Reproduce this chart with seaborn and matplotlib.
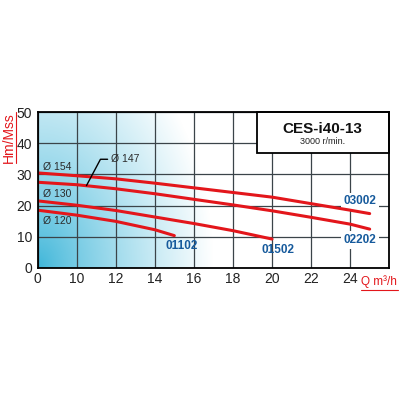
import numpy as np
import pandas as pd
import matplotlib
matplotlib.use("Agg")
import matplotlib.pyplot as plt
import seaborn as sns
from matplotlib.patches import Rectangle
from matplotlib.lines import Line2D

# ---------------- data ----------------
models = ["03002", "02202", "01502", "01102"]
diameters = ["Ø 154", "Ø 147", "Ø 130", "Ø 120"]
q_154 = [0, 10, 12, 14, 16, 18, 20, 22, 24, 25]
h_154 = [30.5, 29.6, 28.6, 27.2, 25.7, 24.2, 22.7, 20.6, 18.5, 17.4]
q_147 = [0, 10, 12, 14, 16, 18, 20, 22, 24, 25]
h_147 = [27.5, 26.7, 25.4, 23.8, 22.0, 20.2, 18.3, 16.2, 14.0, 12.4]
q_130 = [0, 10, 12, 14, 16, 18, 20]
h_130 = [21.5, 20.1, 18.4, 16.3, 14.2, 11.9, 9.2]
q_120 = [0, 10, 12, 14, 15]
h_120 = [18.5, 16.9, 14.9, 12.2, 10.3]
x_ticks = [0, 10, 12, 14, 16, 18, 20, 22, 24]
y_ticks = [0, 10, 20, 30, 40, 50]
title = "CES-i40-13"
subtitle = "3000 r/min."
x_label = "Q m³/h"
y_label = "Hm/Mss"

df = pd.concat([
    pd.DataFrame({"Q": q_154, "H": h_154, "model": models[0]}),
    pd.DataFrame({"Q": q_147, "H": h_147, "model": models[1]}),
    pd.DataFrame({"Q": q_130, "H": h_130, "model": models[2]}),
    pd.DataFrame({"Q": q_120, "H": h_120, "model": models[3]}),
], ignore_index=True)

# ---------------- style ----------------
sns.set_style("white")
plt.rcParams["font.family"] = ["Liberation Sans", "DejaVu Sans"]
RED = "#e3161b"
BLUE = "#165a9c"
TXT = "#222222"

fig = plt.figure(figsize=(4, 4), dpi=100)
fig.patch.set_facecolor("white")
ax = fig.add_axes([0.094, 0.331, 0.879, 0.388])

# piecewise x scale: 0-10 one cell, then 2 per cell
def fwd(x):
    x = np.asarray(x, dtype=float)
    return np.where(x < 10, x / 10.0, 1.0 + (x - 10.0) / 2.0)

def inv(u):
    u = np.asarray(u, dtype=float)
    return np.where(u < 1, u * 10.0, 10.0 + (u - 1.0) * 2.0)

ax.set_xscale("function", functions=(fwd, inv))

# gradient background (cyan at lower left fading to white)
W, H = 352, 155
xx, yy = np.meshgrid(np.arange(W), np.arange(H)[::-1])
t = np.sqrt((xx / 175.0) ** 2 + (yy / 250.0) ** 2)
f = np.clip(t, 0, 1) ** 0.8
c0 = np.array([0.235, 0.71, 0.85])
img = c0[None, None, :] * (1 - f[..., None]) + f[..., None]
ax.imshow(img, extent=[0, 1, 0, 1], transform=ax.transAxes, aspect="auto",
          zorder=0, interpolation="bilinear")

sns.lineplot(data=df, x="Q", y="H", hue="model", palette=[RED] * 4,
             estimator=None, sort=False, legend=False, linewidth=2.2,
             ax=ax, zorder=4)

ax.set_xlim(0, 26)
ax.set_ylim(0, 50)
ax.set_xticks(x_ticks)
ax.set_yticks(y_ticks)
ax.set_xticklabels([str(v) for v in x_ticks])
ax.grid(True, color="#3b4449", linewidth=0.9, zorder=1)
ax.set_axisbelow(False)
for gl in ax.get_xgridlines() + ax.get_ygridlines():
    gl.set_zorder(1)
ax.tick_params(axis="both", length=0, labelsize=10, labelcolor=TXT)
ax.tick_params(axis="x", pad=3)
ax.tick_params(axis="y", pad=4)
for s in ax.spines.values():
    s.set_color("black")
    s.set_linewidth(1.3)
    s.set_zorder(6)
ax.set_xlabel("")
ax.set_ylabel("")

# title box
ax.add_patch(Rectangle((0.623, 0.74), 0.377, 0.26, transform=ax.transAxes,
                       facecolor="white", edgecolor="black", linewidth=1.3,
                       zorder=5, clip_on=False))
ax.text(0.811, 0.893, title, transform=ax.transAxes, ha="center", va="center",
        fontsize=11, fontweight="bold", color="#111111", zorder=7)
ax.text(0.811, 0.812, subtitle, transform=ax.transAxes, ha="center", va="center",
        fontsize=6.5, color="#222222", zorder=7)

# model labels
lab_pos = {"03002": (24.5, 21.3), "02202": (24.5, 9.0),
           "01502": (20.3, 5.7), "01102": (15.4, 6.8)}
for m in models:
    x, y = lab_pos[m]
    ax.text(x, y, m, ha="center", va="center", fontsize=8.5, fontweight="bold",
            color=BLUE, zorder=3,
            bbox=dict(boxstyle="square,pad=0.25", facecolor="white",
                      edgecolor="none") if m in ("03002", "02202") else None)

# diameter labels
DCOL = "#2a2a2a"
ax.text(1.3, 32.4, diameters[0], ha="left", va="center", fontsize=7.5, color=DCOL, zorder=5)
ax.text(1.3, 23.6, diameters[2], ha="left", va="center", fontsize=7.5, color=DCOL, zorder=5)
ax.text(1.3, 15.1, diameters[3], ha="left", va="center", fontsize=7.5, color=DCOL, zorder=5)
ax.annotate(diameters[1], xy=(10.5, 26.4), xytext=(11.75, 34.9),
            ha="left", va="center", fontsize=7.5, color=DCOL, zorder=5,
            arrowprops=dict(arrowstyle="-", color="black", lw=1.0,
                            connectionstyle="angle,angleA=0,angleB=62,rad=0",
                            relpos=(0, 0.5), shrinkA=0, shrinkB=0))

# axis labels (red, underlined)
fig.text(361 / 400, 1 - 281.7 / 400, x_label, ha="left", va="center",
         fontsize=8.5, color=RED)
fig.add_artist(Line2D([361 / 400, 398 / 400], [1 - 289.5 / 400] * 2,
                      transform=fig.transFigure, color=RED, lw=0.8))
fig.text(8.5 / 400, 1 - 112.5 / 400, y_label, ha="center", va="top",
         rotation=90, fontsize=10, color=RED)
fig.add_artist(Line2D([16 / 400] * 2, [1 - 112 / 400, 1 - 163 / 400],
                      transform=fig.transFigure, color=RED, lw=0.8))

fig.savefig("out.png", dpi=100)
